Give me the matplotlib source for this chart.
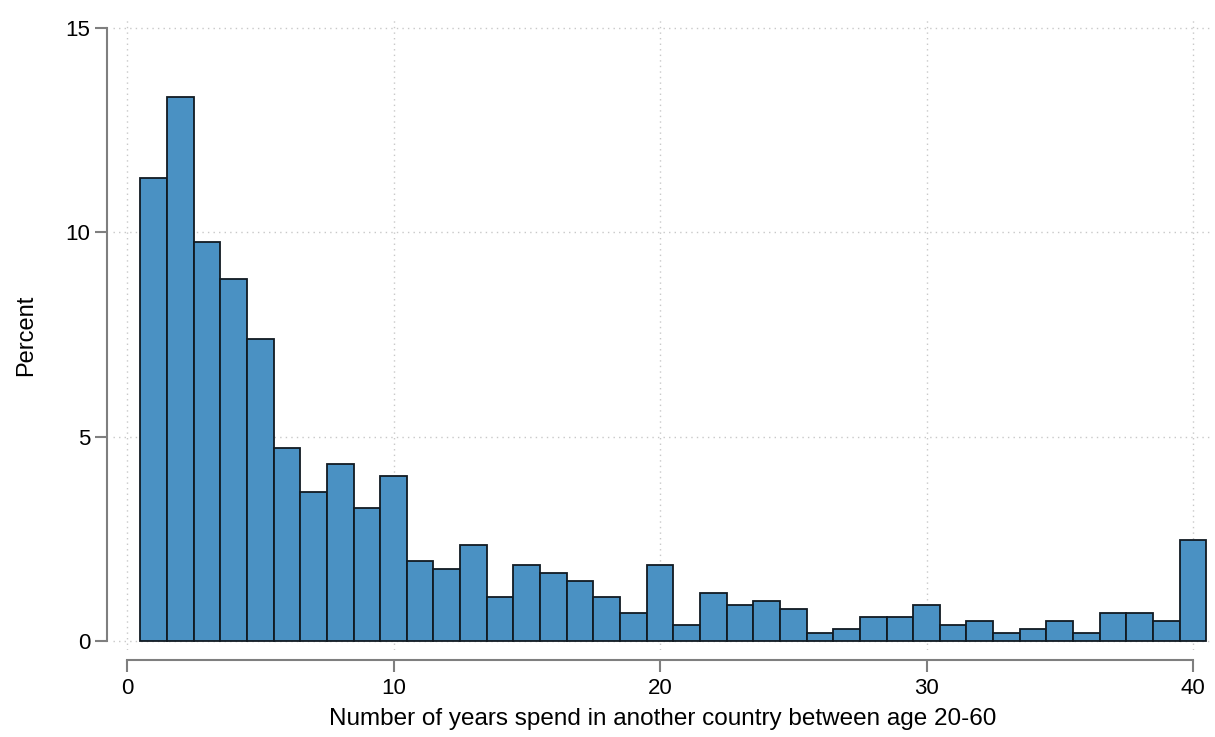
import numpy as np
import matplotlib.pyplot as plt

plt.rcParams['font.family'] = ['Liberation Sans', 'DejaVu Sans']

# Histogram of years abroad (1-year bins centered on 1..40), percent
years = np.arange(1, 41)
percent = [11.33, 13.31, 9.76, 8.86, 7.39, 4.72, 3.65, 4.33, 3.25, 4.04,
           1.96, 1.76, 2.35, 1.08, 1.86, 1.66, 1.47, 1.08, 0.69, 1.86,
           0.39, 1.17, 0.88, 0.98, 0.78, 0.20, 0.29, 0.59, 0.59, 0.88,
           0.39, 0.49, 0.20, 0.29, 0.49, 0.20, 0.69, 0.69, 0.49, 2.47]

x_ticks = [0, 10, 20, 30, 40]
y_ticks = [0, 5, 10, 15]

W, H = 1215, 737
fig = plt.figure(figsize=(W / 100, H / 100), dpi=100)

# axes box in pixels
left, right, top, bottom = 113, 1212, 20, 650
ax = fig.add_axes([left / W, (H - bottom) / H, (right - left) / W, (bottom - top) / H])

ax.bar(years, percent, width=1.0, color='#4a91c3', edgecolor='#111a22',
       linewidth=1.3, zorder=3)

# data -> pixel mapping: 0->127, 40->1193 ; y 0->641, 15->28
xs = (1193 - 127) / 40
ys = (641 - 28) / 15
ax.set_xlim((left - 127) / xs, (right - 127) / xs)
ax.set_ylim(-(bottom - 641) / ys, 15 + (28 - top) / ys)

ax.set_xticks(x_ticks)
ax.set_yticks(y_ticks)
ax.grid(True, color='#c8c8c8', linestyle=(0, (1, 3)), linewidth=1.0, zorder=0)

for s in ['top', 'right']:
    ax.spines[s].set_visible(False)
ax.spines['left'].set_position(('outward', (left - 107) * 0.72))
ax.spines['bottom'].set_position(('outward', (660 - bottom) * 0.72))
ax.spines['left'].set_bounds(0, 15)
ax.spines['bottom'].set_bounds(0, 40)
for s in ['left', 'bottom']:
    ax.spines[s].set_color('#7f7f7f')
    ax.spines[s].set_linewidth(1.5)

ax.tick_params(axis='both', colors='#7f7f7f', width=1.5, length=8.6, labelsize=16,
               labelcolor='black', pad=3.6)
ax.tick_params(axis='x', pad=4.5)

ax.set_xlabel('Number of years spend in another country between age 20-60',
              fontsize=17.5, labelpad=6)
ax.set_ylabel('Percent', fontsize=17, labelpad=20)

fig.savefig('out.png', dpi=100)
